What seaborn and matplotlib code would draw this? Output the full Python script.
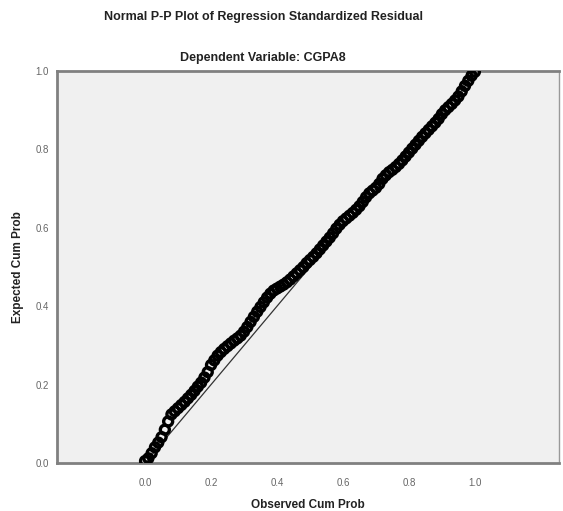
import numpy as np
import pandas as pd
import seaborn as sns
import matplotlib
matplotlib.use('Agg')
import matplotlib.pyplot as plt

# observed vs expected cumulative probabilities
obs_cum_prob = [0.00, 0.01, 0.02, 0.03, 0.04, 0.05, 0.06, 0.07, 0.08, 0.09,
                0.10, 0.11, 0.12, 0.13, 0.14, 0.15, 0.16, 0.17, 0.18, 0.19,
                0.20, 0.21, 0.22, 0.23, 0.24, 0.25, 0.26, 0.27, 0.28, 0.29,
                0.30, 0.31, 0.32, 0.33, 0.34, 0.35, 0.36, 0.37, 0.38, 0.39,
                0.40, 0.41, 0.42, 0.43, 0.44, 0.45, 0.46, 0.47, 0.48, 0.49,
                0.50, 0.51, 0.52, 0.53, 0.54, 0.55, 0.56, 0.57, 0.58, 0.59,
                0.60, 0.61, 0.62, 0.63, 0.64, 0.65, 0.66, 0.67, 0.68, 0.69,
                0.70, 0.71, 0.72, 0.73, 0.74, 0.75, 0.76, 0.77, 0.78, 0.79,
                0.80, 0.81, 0.82, 0.83, 0.84, 0.85, 0.86, 0.87, 0.88, 0.89,
                0.90, 0.91, 0.92, 0.93, 0.94, 0.95, 0.96, 0.97, 0.98, 0.99, 1.00]
exp_cum_prob = [0.005, 0.012, 0.025, 0.040, 0.052, 0.066, 0.085, 0.106, 0.124, 0.132,
                0.140, 0.148, 0.156, 0.165, 0.174, 0.184, 0.195, 0.205, 0.218, 0.232,
                0.250, 0.262, 0.274, 0.283, 0.291, 0.298, 0.305, 0.312, 0.318, 0.325,
                0.335, 0.347, 0.360, 0.373, 0.386, 0.398, 0.410, 0.422, 0.432, 0.440,
                0.445, 0.450, 0.455, 0.461, 0.468, 0.476, 0.484, 0.492, 0.500, 0.510,
                0.518, 0.526, 0.535, 0.545, 0.555, 0.565, 0.575, 0.586, 0.598, 0.608,
                0.617, 0.624, 0.631, 0.638, 0.646, 0.655, 0.666, 0.678, 0.688, 0.695,
                0.702, 0.712, 0.725, 0.734, 0.742, 0.748, 0.755, 0.763, 0.772, 0.782,
                0.792, 0.802, 0.812, 0.822, 0.832, 0.841, 0.850, 0.859, 0.868, 0.878,
                0.890, 0.900, 0.908, 0.916, 0.925, 0.935, 0.948, 0.962, 0.975, 0.988, 0.998]
ref_x = [0.0, 1.0]
ref_y = [0.0, 1.0]
tick_vals = [0.0, 0.2, 0.4, 0.6, 0.8, 1.0]
tick_labels = ['0.0', '0.2', '0.4', '0.6', '0.8', '1.0']

df = pd.DataFrame({'obs': obs_cum_prob, 'exp': exp_cum_prob})
ref = pd.DataFrame({'x': ref_x, 'y': ref_y})

sns.set_style('white')
plt.rcParams['font.family'] = ['Liberation Sans', 'DejaVu Sans']

fig = plt.figure(figsize=(5.63, 5.11), dpi=100)
ax = fig.add_axes([57/563, 48/511, 502/563, 392/511])
ax.set_facecolor('#f0f0f0')

# reference diagonal
sns.lineplot(data=ref, x='x', y='y', ax=ax, color='#333333', linewidth=0.9, zorder=2)
# points as open circles, heavily overlapping like the SPSS output
sns.scatterplot(data=df, x='obs', y='exp', ax=ax, marker='o', s=42,
                facecolor='none', edgecolor='black', linewidth=2.4, zorder=3)

ax.set_xlim(-0.267, 1.255)
ax.set_ylim(0.0, 1.0)
ax.set_xticks(tick_vals)
ax.set_xticklabels(tick_labels)
ax.set_yticks(tick_vals)
ax.set_yticklabels(tick_labels)
ax.tick_params(axis='both', labelsize=7, labelcolor='#666666', color='#777777',
               length=5, width=1, direction='out')
ax.tick_params(axis='x', pad=6)
ax.tick_params(axis='y', pad=1)

for side in ['left', 'bottom', 'top']:
    ax.spines[side].set_color('#808080')
    ax.spines[side].set_linewidth(2)
ax.spines['right'].set_color('#999999')
ax.spines['right'].set_linewidth(1)

ax.set_xlabel('Observed Cum Prob', fontsize=8.5, fontweight='bold', color='#222222', labelpad=8)
ax.set_ylabel('Expected Cum Prob', fontsize=8.5, fontweight='bold', color='#222222', labelpad=8)

fig.text(263/563, 1 - 17/511, 'Normal P-P Plot of Regression Standardized Residual',
         ha='center', va='center', fontsize=9, fontweight='bold', color='#222222')
fig.text(263/563, 1 - 58/511, 'Dependent Variable: CGPA8',
         ha='center', va='center', fontsize=9, fontweight='bold', color='#222222')

fig.savefig('out.png', dpi=100)
